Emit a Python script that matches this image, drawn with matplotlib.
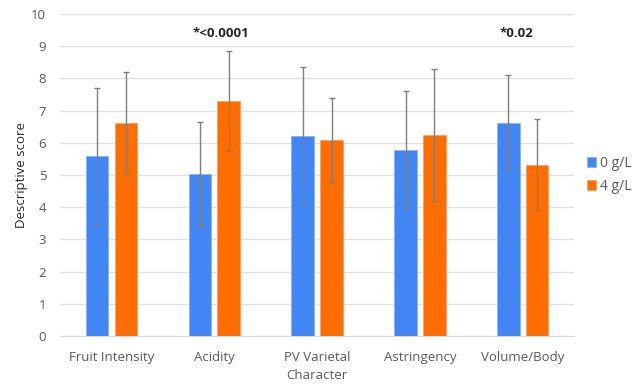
import matplotlib
matplotlib.use("Agg")
import matplotlib.pyplot as plt
import numpy as np

categories = ["Fruit Intensity", "Acidity", "PV Varietal\nCharacter", "Astringency", "Volume/Body"]
series_names = ["0 g/L", "4 g/L"]
means_0 = [5.58, 5.03, 6.22, 5.77, 6.61]
err_0 = [2.11, 1.60, 2.14, 1.84, 1.50]
means_4 = [6.60, 7.31, 6.08, 6.23, 5.31]
err_4 = [1.61, 1.55, 1.32, 2.05, 1.44]
annotations = {1: "*<0.0001", 4: "*0.02"}
yticks = list(range(0, 11))

plt.rcParams['font.family'] = ['Open Sans', 'DejaVu Sans']
fig = plt.figure(figsize=(6.4, 3.88), dpi=100)
ax = fig.add_axes([0.094, 0.134, 0.803, 0.830])

x = np.arange(len(categories))
w = 0.22
off = 0.14
blue = "#4285F4"
orange = "#FF6D00"
ek = dict(ecolor="#7F7F7F", elinewidth=1.0, capsize=2.0, capthick=1.0)
ax.bar(x - off, means_0, w, color=blue, edgecolor="#8AB4F8", linewidth=0.6, label=series_names[0],
       yerr=err_0, error_kw=ek, zorder=3)
ax.bar(x + off, means_4, w, color=orange, edgecolor="#FF9E60", linewidth=0.6, label=series_names[1],
       yerr=err_4, error_kw=ek, zorder=3)

ann_dx = {1: 0.06, 4: -0.06}
for i, t in annotations.items():
    ax.text(x[i] + ann_dx[i], 9.4, t, ha="center", va="center", fontsize=9.5,
            fontweight="bold", color="#262626")

ax.set_xlim(-0.5, len(categories) - 0.5)
ax.set_ylim(0, 10)
ax.set_yticks(yticks)
ax.set_xticks(x)
ax.set_xticklabels(categories, linespacing=1.5)
ax.tick_params(axis="both", length=0, colors="#595959", labelsize=9.5)
ax.tick_params(axis="x", pad=11)
ax.tick_params(axis="y", pad=10)
ax.grid(axis="y", color="#E0E0E0", linewidth=1.0, zorder=0)
for s in ["top", "right", "left"]:
    ax.spines[s].set_visible(False)
ax.spines["bottom"].set_color("#D9D9D9")
ax.set_ylabel("Descriptive score", color="#262626", fontsize=9.5, labelpad=2)

ax.legend(loc="center left", bbox_to_anchor=(1.0, 0.5), frameon=False, fontsize=10,
          handlelength=0.7, handleheight=0.7, handletextpad=0.3, labelcolor="#595959",
          labelspacing=0.6)

fig.savefig("out.png", dpi=100)
